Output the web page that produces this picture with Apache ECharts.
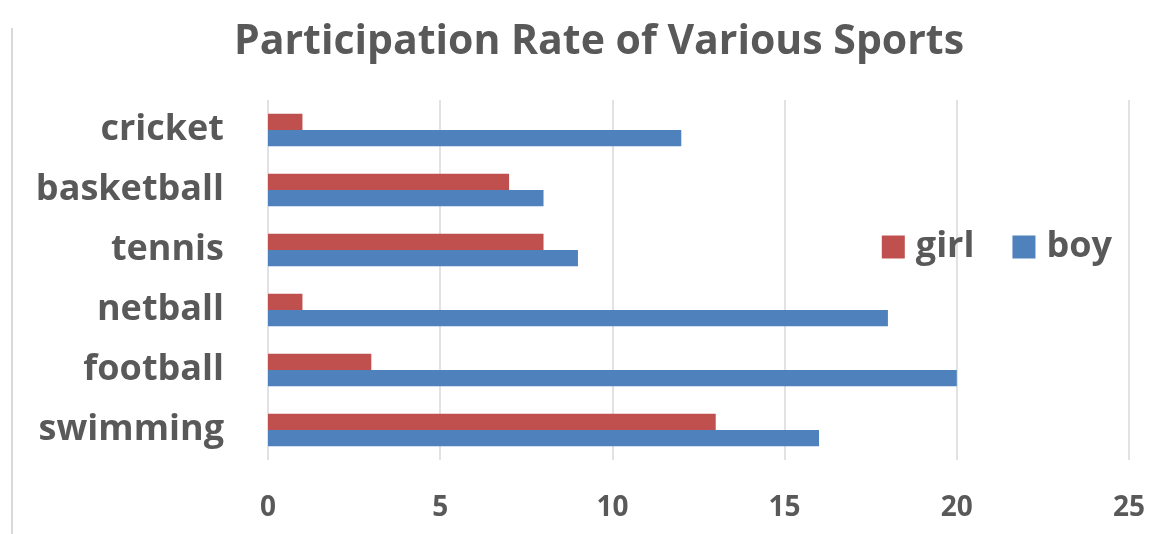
<!DOCTYPE html>
<html>
<head>
<meta charset="utf-8">
<script src="https://cdn.jsdelivr.net/npm/echarts@6/dist/echarts.min.js"></script>
<style>
    html, body { margin: 0; padding: 0; background: #fff; }
    #chart { width: 1161px; height: 534px; }
</style>
</head>
<body>
<div id="chart"></div>
<script>
var sports = ['swimming', 'football', 'netball', 'tennis', 'basketball', 'cricket'];
var girl = [13, 3, 1, 8, 7, 1];
var boy = [16, 20, 18, 9, 8, 12];
var ticks = [0, 5, 10, 15, 20, 25];

var textColor = '#595959';
var font = '"Open Sans", "DejaVu Sans", sans-serif';

var myChart = echarts.init(document.getElementById('chart'));
var option = {
    animation: false,
    title: {
        text: 'Participation Rate of Various Sports',
        left: 594,
        textAlign: 'center',
        top: 17,
        textStyle: {
            fontFamily: font,
            fontSize: 41,
            fontWeight: 'bold',
            color: textColor
        }
    },
    legend: {
        data: ['girl', 'boy'],
        right: 44,
        top: 224,
        icon: 'rect',
        itemWidth: 23,
        itemHeight: 23,
        itemGap: 38,
        textStyle: {
            fontFamily: font,
            fontSize: 36,
            fontWeight: 'bold',
            color: textColor,
            padding: [0, 0, 0, 6]
        }
    },
    grid: {
        left: 268,
        right: 32,
        top: 100,
        bottom: 74
    },
    xAxis: {
        type: 'value',
        min: ticks[0],
        max: ticks[ticks.length - 1],
        interval: 5,
        axisLine: { show: false },
        axisTick: { show: false },
        splitLine: { lineStyle: { color: '#d9d9d9', width: 1.5 } },
        axisLabel: {
            margin: 34,
            fontFamily: font,
            fontSize: 28,
            fontWeight: 'bold',
            color: textColor
        }
    },
    yAxis: {
        type: 'category',
        data: sports,
        axisLine: { show: false },
        axisTick: { show: false },
        axisLabel: {
            margin: 44,
            fontFamily: font,
            fontSize: 36,
            fontWeight: 'bold',
            color: textColor
        }
    },
    series: [
        {
            name: 'girl',
            type: 'bar',
            data: girl,
            barGap: '0%',
            barCategoryGap: '46%',
            itemStyle: { color: '#c0504d' }
        },
        {
            name: 'boy',
            type: 'bar',
            data: boy,
            itemStyle: { color: '#4f81bd' }
        }
    ],
    graphic: [{
        type: 'line',
        shape: { x1: 12, y1: 28, x2: 12, y2: 534 },
        style: { stroke: '#d9d9d9', lineWidth: 2 }
    }]
};
myChart.setOption(option);
</script>
</body>
</html>
